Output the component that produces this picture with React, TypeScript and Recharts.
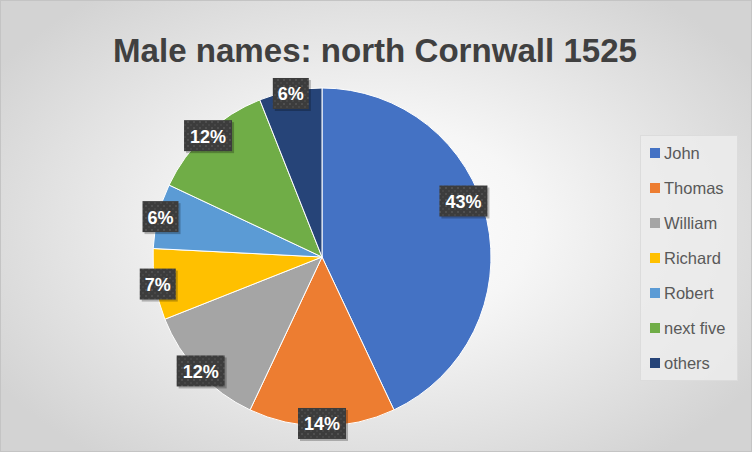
import React from "react";
import { PieChart, Pie, Cell, Legend } from "recharts";

const names = ["John", "Thomas", "William", "Richard", "Robert", "next five", "others"];
const shares = [43, 14, 12, 6.8, 6.2, 12, 6];
const colors = ["#4472C4", "#ED7D31", "#A5A5A5", "#FFC000", "#5B9BD5", "#70AD47", "#264478"];
const title = "Male names: north Cornwall 1525";

const data = names.map((n, i) => ({ name: n, value: shares[i] }));

const RAD = Math.PI / 180;

const renderLabel = (props: any) => {
  const { cx, cy, midAngle, outerRadius, percent, index } = props;
  const r = index === 0 ? outerRadius * 0.9 : outerRadius * 0.985;
  const ang = index === 0 ? midAngle + 9 : midAngle;
  const x = cx + r * Math.cos(-ang * RAD);
  const y = cy + r * Math.sin(-ang * RAD);
  const txt = `${Math.round(percent * 100)}%`;
  const w = txt.length === 3 ? 48 : 36;
  const h = 31;
  return (
    <g key={`lbl-${index}`}>
      <rect x={x - w / 2 + 2} y={y - h / 2 + 2} width={w} height={h} fill="rgba(0,0,0,0.25)" />
      <rect x={x - w / 2} y={y - h / 2} width={w} height={h} fill="url(#dkpat)" />
      <text
        x={x}
        y={y + 7}
        textAnchor="middle"
        fill="#ffffff"
        fontFamily="'Liberation Sans', Arial, sans-serif"
        fontWeight="bold"
        fontSize={18}
      >
        {txt}
      </text>
    </g>
  );
};

const renderLegend = () => (
  <div
    style={{
      width: 98,
      height: 246,
      background: "rgba(236,236,236,0.85)",
      border: "1px solid #dcdcdc",
      boxSizing: "border-box",
      position: "relative",
    }}
  >
    {names.map((n, i) => (
      <div
        key={n}
        style={{
          position: "absolute",
          left: 9,
          top: 6 + i * 35,
          height: 22,
          display: "flex",
          alignItems: "center",
          fontFamily: "'Liberation Sans', Arial, sans-serif",
          fontSize: 16.5,
          color: "#595959",
          whiteSpace: "nowrap",
        }}
      >
        <span style={{ display: "inline-block", width: 10, height: 10, background: colors[i], marginRight: 4 }} />
        {n}
      </div>
    ))}
  </div>
);

export default function App() {
  return (
    <div
      style={{
        position: "absolute",
        left: 0,
        top: 0,
        width: 752,
        height: 452,
        boxSizing: "border-box",
        border: "1px solid #c4c4c4",
        background: "radial-gradient(ellipse 60% 65% at 50% 50%, #ffffff 0%, #f6f6f6 35%, #d3d3d3 100%)",
        overflow: "hidden",
      }}
    >
      <svg width={0} height={0} style={{ position: "absolute" }}>
        <defs>
          <pattern id="dkpat" width="6" height="6" patternUnits="userSpaceOnUse">
            <rect width="6" height="6" fill="#3c3c3c" />
            <rect x="1" y="1" width="2" height="2" fill="#4f4f4f" />
            <rect x="4" y="4" width="2" height="2" fill="#474747" />
          </pattern>
        </defs>
      </svg>
      <svg width={752} height={80} style={{ position: "absolute", left: -1, top: -1 }}>
        <text
          x={113}
          y={62}
          textLength={524}
          lengthAdjust="spacingAndGlyphs"
          fontFamily="'Liberation Sans', Arial, sans-serif"
          fontWeight="bold"
          fontSize={33}
          fill="#404040"
        >
          {title}
        </text>
      </svg>
      <div style={{ position: "absolute", left: -1, top: -1 }}>
        <PieChart width={752} height={452}>
          <Pie
            data={data}
            dataKey="value"
            nameKey="name"
            cx={317}
            cy={252}
            outerRadius={169}
            startAngle={90}
            endAngle={-270}
            stroke="#ffffff"
            strokeWidth={1}
            label={renderLabel}
            labelLine={false}
            isAnimationActive={false}
          >
            {data.map((d, i) => (
              <Cell key={d.name} fill={colors[i]} />
            ))}
          </Pie>
          <Legend
            content={renderLegend}
            wrapperStyle={{ position: "absolute", left: 640, top: 135, width: 98, height: 246 }}
          />
        </PieChart>
      </div>
    </div>
  );
}
